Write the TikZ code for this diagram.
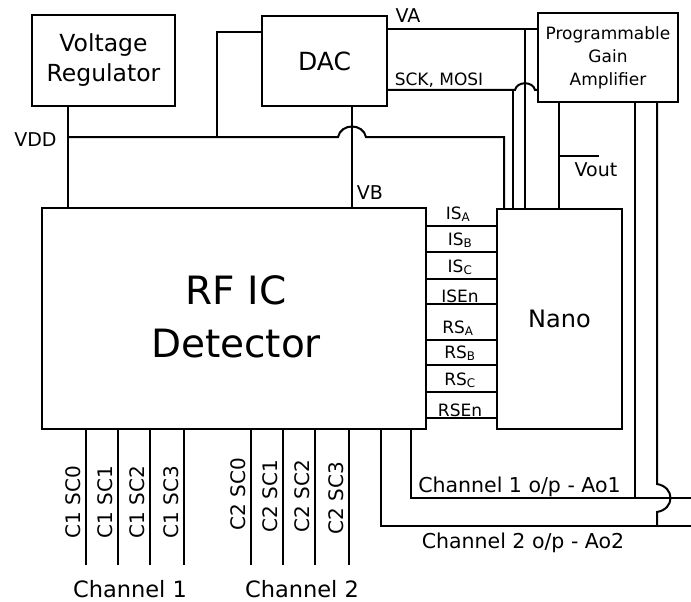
\documentclass[tikz,border=0pt]{standalone}
\usepackage{fontspec}
\setmainfont{DejaVu Sans}
\newcommand{\fsz}[1]{\fontsize{#1}{1.3\dimexpr #1pt\relax}\selectfont}
\tikzset{
  wire/.style={line width=2pt, line join=miter},
  blk/.style={draw, line width=2pt, inner sep=0pt, align=center},
  lbl/.style={inner sep=0pt, anchor=base},
  siglbl/.style={inner sep=0pt, anchor=base, font=\fsz{17}},
  pinlbl/.style={inner sep=0pt, rotate=90, font=\fsz{20}},
}
\begin{document}
\begin{tikzpicture}[x=1pt,y=-1pt]
\useasboundingbox (0,0) rectangle (691,602);
% blocks
\node[blk, minimum width=143pt, minimum height=91pt, font=\fontsize{23.5}{30}\selectfont] (reg) at (103.5,60.5) {Voltage\\Regulator};
\node[blk, minimum width=125pt, minimum height=90pt, font=\fsz{25}] (dac) at (324.5,61) {DAC};
\node[blk, minimum width=140pt, minimum height=89pt, font=\fontsize{17}{23}\selectfont] (pga) at (608,57.5) {Programmable\\Gain\\Amplifier};
\node[blk, minimum width=384pt, minimum height=221pt] (rf) at (234,318.5) {};
\node[font=\fontsize{39}{53}\selectfont, align=center, inner sep=0pt] (rft) at (236,317) {RF IC\\Detector};
\node[blk, minimum width=125pt, minimum height=220pt, font=\fsz{24}] (nano) at (559.5,319) {Nano};
% regulator to RF
\draw[wire] (68,0 |- reg.south) -- (68,0 |- rf.north);
% VDD line
\draw[wire] (68,137) -- (338,137) .. controls (341,123) and (363,123) .. (366,137)
  -- (504,137) -- (504,0 |- nano.north);
\draw[wire] (217,137) -- (217,32) -- (dac.west |- 0,32);
% DAC to RF (VB)
\draw[wire] (352,0 |- dac.south) -- (352,0 |- rf.north);
% VA
\draw[wire] (dac.east |- 0,29) -- (pga.west |- 0,29);
\draw[wire] (525,29) -- (525,0 |- nano.north);
% SCK, MOSI
\draw[wire] (dac.east |- 0,90) -- (515,90) .. controls (517,81) and (533,81) .. (535,90) -- (pga.west |- 0,90);
\draw[wire] (513,90) -- (513,0 |- nano.north);
% Vout
\draw[wire] (559,0 |- pga.south) -- (559,0 |- nano.north);
\draw[wire] (559,156) -- (599,156);
% PGA outputs
\draw[wire] (635,0 |- pga.south) -- (635,498);
\draw[wire] (657,0 |- pga.south) -- (657,484) .. controls (675,487) and (675,509) .. (657,512) -- (657,526);
% channel outputs
\draw[wire] (411,0 |- rf.south) -- (411,498) -- (691,498);
\draw[wire] (381,0 |- rf.south) -- (381,526) -- (691,526);
% RF <-> Nano signal lines
\foreach \yy in {226,252,279,304,340,365,392,418}
  \draw[wire] (rf.east |- 0,\yy) -- (nano.west |- 0,\yy);
\node[siglbl] (isa) at (458,219) {IS\textsubscript{A}};
\node[siglbl] (isb) at (460,245) {IS\textsubscript{B}};
\node[siglbl] (isc) at (460,272) {IS\textsubscript{C}};
\node[siglbl] (isen) at (460,302) {ISEn};
\node[siglbl] (rsa) at (458,333) {RS\textsubscript{A}};
\node[siglbl] (rsb) at (460,358) {RS\textsubscript{B}};
\node[siglbl] (rsc) at (460,385) {RS\textsubscript{C}};
\node[siglbl] (rsen) at (460,416) {RSEn};
% channel select pins
\foreach \xx/\tx/\cy in {86/C1 SC0/502,118/C1 SC1/502,150/C1 SC2/502,184/C1 SC3/502,
                         251/C2 SC0/494,283/C2 SC1/496,315/C2 SC2/496,349/C2 SC3/498}{
  \draw[wire] (\xx,0 |- rf.south) -- (\xx,565);
  \node[pinlbl] at (\xx-13,\cy) {\tx};
}
% labels
\node[lbl, font=\fsz{19}] (vdd) at (35.5,146) {VDD};
\node[lbl, font=\fsz{19}] (va) at (408,23) {VA};
\node[lbl, font=\fsz{19}] (vb) at (370,199) {VB};
\node[lbl, font=\fsz{17}] (sck) at (439,85) {SCK, MOSI};
\node[lbl, font=\fsz{19}] (vout) at (596,176) {Vout};
\node[lbl, font=\fsz{20.5}] (ao1) at (519.5,492) {Channel 1 o/p - Ao1};
\node[lbl, font=\fsz{20.5}] (ao2) at (523,548) {Channel 2 o/p - Ao2};
\node[lbl, font=\fsz{22.5}] (ch1) at (130,597) {Channel 1};
\node[lbl, font=\fsz{22.5}] (ch2) at (302,597) {Channel 2};
\end{tikzpicture}
\end{document}
